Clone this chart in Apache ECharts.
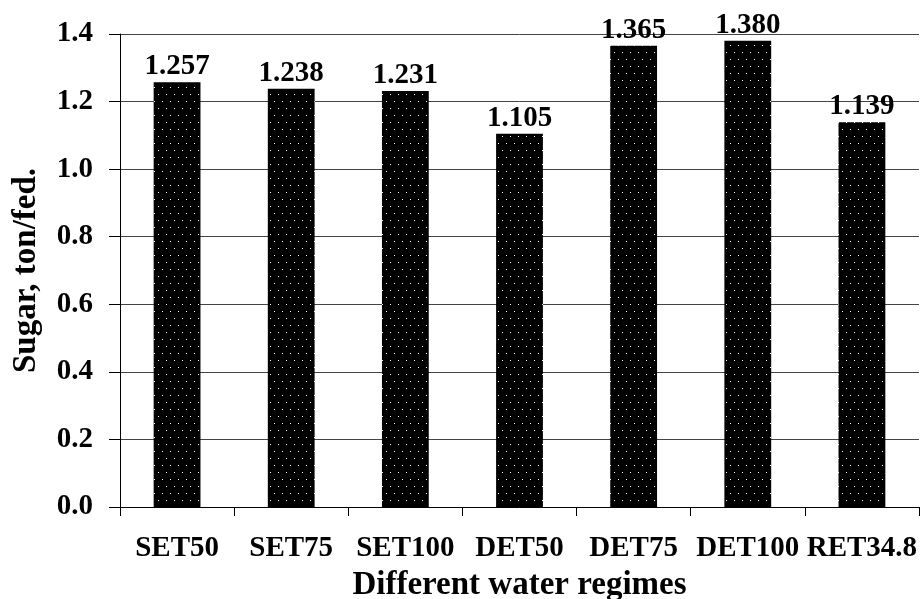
<!DOCTYPE html>
<html>
<head>
<meta charset="utf-8">
<script src="https://cdn.jsdelivr.net/npm/echarts@6/dist/echarts.min.js"></script>
<style>
html,body{margin:0;padding:0;background:#fff;}
#chart{width:922px;height:599px;}
</style>
</head>
<body>
<div id="chart"></div>
<script>
const categories = ['SET50','SET75','SET100','DET50','DET75','DET100','RET34.8'];
const sugarValues = [1.257, 1.238, 1.231, 1.105, 1.365, 1.380, 1.139];
const yAxisTitle = 'Sugar, ton/fed.';
const xAxisTitle = 'Different water regimes';

function dotPattern(){
  const c = document.createElement('canvas');
  c.width = 8; c.height = 14;
  const ctx = c.getContext('2d');
  ctx.fillStyle = '#000';
  ctx.fillRect(0,0,8,14);
  ctx.fillStyle = '#fff';
  ctx.fillRect(2,3,1,1);
  ctx.fillRect(6,10,1,1);
  return c;
}

const font = '"Liberation Serif", "Times New Roman", serif';
const chart = echarts.init(document.getElementById('chart'));
chart.setOption({
  animation:false,
  backgroundColor:'#fff',
  grid:{left:120,right:3,top:34,bottom:92,containLabel:false,outerBoundsMode:'none'},
  xAxis:{
    type:'category',
    data:categories,
    name:xAxisTitle,
    nameLocation:'middle',
    nameGap:62,
    nameTextStyle:{fontFamily:font,fontWeight:'bold',fontSize:33,color:'#000'},
    axisLine:{lineStyle:{color:'#000',width:1}},
    axisTick:{show:true,length:9,lineStyle:{color:'#000'}},
    axisLabel:{fontFamily:font,fontWeight:'bold',fontSize:29,color:'#000',margin:27,interval:0}
  },
  yAxis:{
    type:'value',
    min:0,max:1.4,interval:0.2,
    name:yAxisTitle,
    nameLocation:'middle',
    nameGap:77,
    nameRotate:90,
    nameTextStyle:{fontFamily:font,fontWeight:'bold',fontSize:33,color:'#000'},
    axisLine:{show:true,lineStyle:{color:'#000',width:1}},
    axisTick:{show:true,length:11,lineStyle:{color:'#000'}},
    axisLabel:{fontFamily:font,fontWeight:'bold',fontSize:29,color:'#000',margin:27,
      formatter:function(v){return v.toFixed(1);}},
    splitLine:{show:true,lineStyle:{color:'#444',width:1}}
  },
  series:[{
    type:'bar',
    data:sugarValues,
    barWidth:'41%',
    itemStyle:{color:{image:dotPattern(),repeat:'repeat'}},
    label:{show:true,position:'top',distance:1,fontFamily:font,fontWeight:'bold',fontSize:29,color:'#000',
      formatter:function(p){return p.value.toFixed(3);}}
  }]
});
</script>
</body>
</html>
